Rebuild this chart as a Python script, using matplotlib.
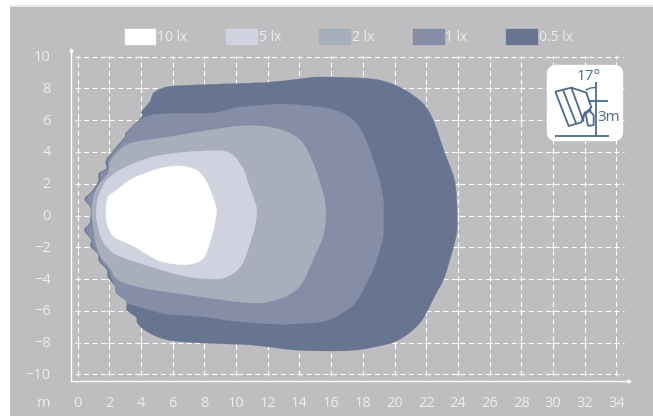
import matplotlib
matplotlib.use("Agg")
import matplotlib.pyplot as plt
from matplotlib.patches import Rectangle, FancyBboxPatch, PathPatch
from matplotlib.path import Path
from matplotlib.transforms import ScaledTranslation
import numpy as np

plt.rcParams['font.family'] = ['Open Sans', 'DejaVu Sans']

W, H = 653, 416
BG = '#bebec0'
TXT = '#ececee'
ICON = '#4f6a8f'

x_ticks = list(range(0, 35, 2))
y_ticks = list(range(-10, 11, 2))
labels = ['10 lx', '5 lx', '2 lx', '1 lx', '0.5 lx']
colors = ['#ffffff', '#d0d3df', '#a9aebd', '#868da6', '#677590']

lx_10 = [(1.8,0.55),(1.93,1.18),(2.47,1.6),(3.5,2.35),(5.2,2.97),(6.47,3.12),(7.5,2.87),(8.15,2.13),
         (8.74,0.55),(8.74,0),(8.56,-0.98),(8.05,-2.55),(7.5,-2.97),(6.67,-3.1),(5.2,-2.87),(3.5,-1.92),
         (2.25,-1.3),(1.84,-0.45),(1.8,0.18)]
lx_5 = [(1.2,0.47),(1.3,1.18),(1.84,2.23),(2.87,2.97),(4.78,3.7),(6.9,4.0),(9,4.08),(9.8,3.8),(10.45,2.97),
        (10.75,2.1),(11.25,0.7),(11.3,0),(11.2,-0.66),(10.9,-1.7),(10.45,-2.97),(9.8,-3.67),(8.8,-4),(6.67,-3.8),
        (3.5,-2.87),(2.25,-2.35),(1.53,-1.5),(1.2,-0.22)]
lx_2 = [(0.9,0),(0.96,1),(1.31,1.92),(1.93,2.67),(2.05,3.4),(2.87,4.33),(3.73,4.65),(5.6,4.93),(7.7,5.28),
        (10.25,5.64),(11.9,5.6),(13.2,5.28),(14.15,4.65),(14.87,3.3),(15.5,1.4),(15.67,0.35),(15.67,0),
        (15.5,-1.3),(14.87,-2.75),(14.15,-4.3),(13.2,-5.07),(11.7,-5.5),(9.8,-5.4),(6.67,-4.95),(4.57,-4.65),
        (3.1,-4.3),(2.37,-3.9),(2.05,-3.3),(1.42,-2.55),(1.1,-1.5),(0.96,-0.45)]
lx_1 = [(0.85,0.47),(0.54,1.04),(0.98,1.5),(1.42,2.13),(1.45,2.67),(1.95,2.97),(1.95,3.55),(3.05,4.96),
        (3.13,5.28),(4.05,6.1),(5.2,6.39),(8.56,6.47),(10.25,6.83),(13,7.02),(15.5,6.8),(16.75,6.45),
        (17.6,5.8),(18.2,4.75),(19,2.45),(19.3,0.97),(19.3,0),(19.25,-1.5),(18.65,-3.4),(17.6,-5.4),
        (16.75,-6.1),(15.6,-6.65),(13,-6.85),(9.8,-6.65),(8.15,-6.4),(5.6,-6.2),(4.37,-5.9),(3.1,-5.5),
        (3.1,-5.4),(2.47,-4.9),(2.37,-4.45),(2.05,-3.8),(1.93,-3.4),(1.48,-2.87),(1.42,-2.43),(0.96,-1.96),
        (0.9,-1.5),(0.54,-0.92),(0.85,-0.45)]
lx_05 = [(0.83,0.47),(0.45,1.04),(0.9,1.5),(1.31,2.13),(1.36,2.67),(1.84,2.97),(1.84,3.55),(3.0,4.96),
         (3.05,5.2),(4.05,6.22),(4.05,6.55),(4.57,7.17),(4.78,7.7),(5.3,8.0),(6.03,8.15),(9,8.28),(11.9,8.38),
         (14,8.6),(15.1,8.72),(17.4,8.68),(19.07,8.53),(20.5,8.0),(21.8,7.07),(22.45,6.0),(23.15,4.0),
         (23.8,2.2),(23.95,0.35),(23.95,-0.85),(23.8,-1.7),(23.15,-3.9),(22.6,-4.95),(21.8,-6.5),(20.96,-7.38),
         (19.9,-8.0),(18,-8.42),(16.5,-8.53),(13.8,-8.48),(10.9,-8.15),(8.15,-8.05),(6.03,-7.9),(5,-7.63),
         (4.14,-7.15),(3.77,-6.75),(3.7,-6.4),(3.1,-5.95),(3.1,-5.4),(2.47,-4.9),(2.37,-4.45),(1.93,-3.9),
         (1.84,-3.4),(1.36,-2.87),(1.31,-2.43),(0.85,-1.96),(0.85,-1.5),(0.43,-0.92),(0.79,-0.45)]
levels = [lx_10, lx_5, lx_2, lx_1, lx_05]


def rounded_outline(pts, k=0.14):
    """Closed Bezier outline running through every read point."""
    p = np.asarray(pts, float)
    n = len(p)
    verts, codes = [p[0]], [Path.MOVETO]
    for i in range(n):
        a, b, c, d = p[i-1], p[i], p[(i+1) % n], p[(i+2) % n]
        verts += [b + (c-a)*k, c - (d-b)*k, c]
        codes += [Path.CURVE4]*3
    return Path(verts, codes)


fig = plt.figure(figsize=(W/100, H/100), dpi=100, facecolor='white')
fig.add_artist(Rectangle((10/W, 0), 1-10/W, 1-6.5/H, transform=fig.transFigure, fc=BG, ec='none', zorder=-2))
fig.add_artist(Rectangle((10/W, 1-6.5/H), 1-10/W, 1.5/H, transform=fig.transFigure, fc='#e6e6e8', ec='none', zorder=-2))

# axes placed by pixel position; data scale: 15.85 px/m in x, 15.88 px/m in y
L, R, T, B = 71, 629, 49.5, 380.7
ax = fig.add_axes([L/W, 1-B/H, (R-L)/W, (B-T)/H])
ax.patch.set_alpha(0)
ax.set_xlim((L-77.5)/15.85, (R-77.5)/15.85)
ax.set_ylim((215.5-B)/15.88, (215.5-T)/15.88)

# dashed grid
x0, x1 = -0.15, 34.5
y0, y1 = -10.05, 10.05
dash = (0, (4.5, 3.2))
for y in y_ticks:
    ax.plot([x0, x1], [y, y], color='white', lw=0.8, ls=dash, zorder=1)
for x in x_ticks:
    ax.plot([x, x], [y0, y1], color='white', lw=0.8, ls=dash, zorder=1)
for x in x_ticks:
    for y in y_ticks:
        ax.plot([x], [y], marker='+', ms=3.5, mew=0.7, color='white', zorder=1)

# isolux areas, largest first
for pts, col, lab in reversed(list(zip(levels, colors, labels))):
    ax.add_patch(PathPatch(rounded_outline(pts), fc=col, ec=col, lw=0.2, zorder=2, label=lab))

for s in ('top', 'right'):
    ax.spines[s].set_visible(False)
for s in ('left', 'bottom'):
    ax.spines[s].set_color('white')
    ax.spines[s].set_linewidth(1.0)
ax.plot(1, 0, marker='>', ms=2.2, color='white', transform=ax.transAxes, clip_on=False, zorder=3)
ax.plot(0, 1, marker='^', ms=2.2, color='white', transform=ax.transAxes, clip_on=False, zorder=3)

ax.set_xticks(x_ticks)
ax.set_yticks(y_ticks)
ax.tick_params(axis='x', length=0, pad=11, labelsize=10.5, labelcolor=TXT)
ax.tick_params(axis='y', length=0, pad=14.5, labelsize=10.5, labelcolor=TXT)
shift = ScaledTranslation(0, 1/100, fig.dpi_scale_trans)
for lab in ax.get_yticklabels():
    lab.set_transform(lab.get_transform() + shift)
ax.text(43.5/W, 1-407/H, 'm', transform=fig.transFigure, ha='center', va='baseline', color=TXT, fontsize=10.5)

handles, labs = ax.get_legend_handles_labels()
order = {l: h for h, l in zip(handles, labs)}
leg = fig.legend([order[l] for l in labels], labels, ncol=5, frameon=False,
                 loc='center left', bbox_to_anchor=(124.5/W, 1-37/H), borderpad=0, borderaxespad=0,
                 handlelength=2.3, handleheight=1.45, handletextpad=0.05, columnspacing=2.77,
                 fontsize=10, labelcolor=TXT)

# inset icon, drawn in pixel coordinates
ic = fig.add_axes([0, 0, 1, 1], facecolor='none')
ic.set_xlim(0, W)
ic.set_ylim(H, 0)
ic.axis('off')
ic.add_patch(FancyBboxPatch((551, 69), 68, 68, boxstyle='round,pad=0,rounding_size=5', mutation_aspect=1,
                            fc='white', ec='white', lw=6, joinstyle='round', zorder=5))
def P(pts):
    return [323+u/3 for u, v in pts], [v/3 for u, v in pts]
def L2(pts, lw=1.3):
    xs, ys = P(pts)
    ic.plot(xs, ys, color=ICON, lw=lw, zorder=6, solid_joinstyle='round', solid_capstyle='butt')
L2([(697,275),(745,263),(790,278),(805,322),(782,345),(775,367),(737,378),(697,275)])
L2([(720,270),(760,372)])
L2([(745,263),(782,365)])
L2([(780,360),(785,338),(805,330)])
L2([(795,378),(812,375),(812,345),(800,333),(788,340),(795,378)])
L2([(820,245),(820,408)])
L2([(695,408),(857,408)])
L2([(795,302),(855,302)])
L2([(788,270),(803,264),(820,262)], lw=1)
ic.text(323+796/3, 229/3, '17°', ha='center', va='center', color=ICON, fontsize=11, zorder=7)
ic.text(323+858/3, 353/3, '3m', ha='center', va='center', color=ICON, fontsize=11, zorder=7)

fig.savefig('out.png', dpi=100, facecolor='white')
